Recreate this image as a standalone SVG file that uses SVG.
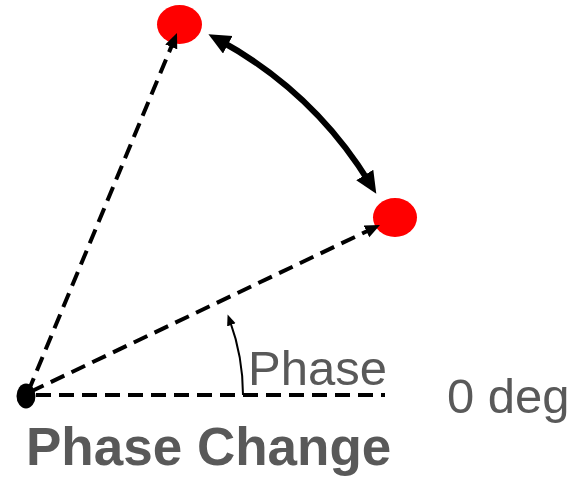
<svg xmlns="http://www.w3.org/2000/svg" width="577" height="477" viewBox="0 0 577 477">
<style>
.dash{fill:none;stroke:#000;stroke-width:4;stroke-dasharray:15 8}
.thick{fill:none;stroke:#000;stroke-width:6}
.thin{fill:none;stroke:#000;stroke-width:2}
.lbl{font-family:"Liberation Sans",Arial,sans-serif;fill:#595959}
.pt{fill:#ff0000}
</style>
<defs>
<marker id="ah" markerUnits="userSpaceOnUse" markerWidth="16" markerHeight="14" refX="8" refY="6.5" orient="auto"><path d="M0,0 L15,6.5 L0,13 Z" fill="#000"/></marker>
<marker id="big" markerUnits="userSpaceOnUse" markerWidth="23" markerHeight="21" refX="10" refY="10" orient="auto-start-reverse"><path d="M0,0 L22,10 L0,20 Z" fill="#000"/></marker>
<marker id="sm" markerUnits="userSpaceOnUse" markerWidth="12" markerHeight="10" refX="4" refY="4.5" orient="auto"><path d="M0,0 L11,4.5 L0,9 Z" fill="#000"/></marker>
</defs>
<g id="origin"><ellipse cx="26" cy="396" rx="9.5" ry="12.5" fill="#000"/></g>
<g id="p1"><ellipse class="pt" cx="179.5" cy="24.5" rx="22.5" ry="19.5"/></g>
<g id="p2"><ellipse class="pt" cx="395" cy="217.5" rx="22" ry="19.5"/></g>
<g id="connectors">
<path class="dash" d="M36 395 H385"/>
<path class="dash" d="M28 392 L174.3 39.5" marker-end="url(#ah)"/>
<path class="dash" d="M30 392 L373.7 228" marker-end="url(#ah)"/>
<path class="thick" d="M219 40 A405 405 0 0 1 370 183.5" marker-start="url(#big)" marker-end="url(#big)"/>
<path class="thin" d="M243 395 A216 216 0 0 0 230 321.1" marker-end="url(#sm)"/>
</g>
<g id="labels">
<text class="lbl" x="248" y="385" font-size="49">Phase</text>
<text class="lbl" x="447" y="413" font-size="49">0 deg</text>
<text class="lbl" x="26" y="465" font-size="53" font-weight="bold">Phase Change</text>
</g>
</svg>
